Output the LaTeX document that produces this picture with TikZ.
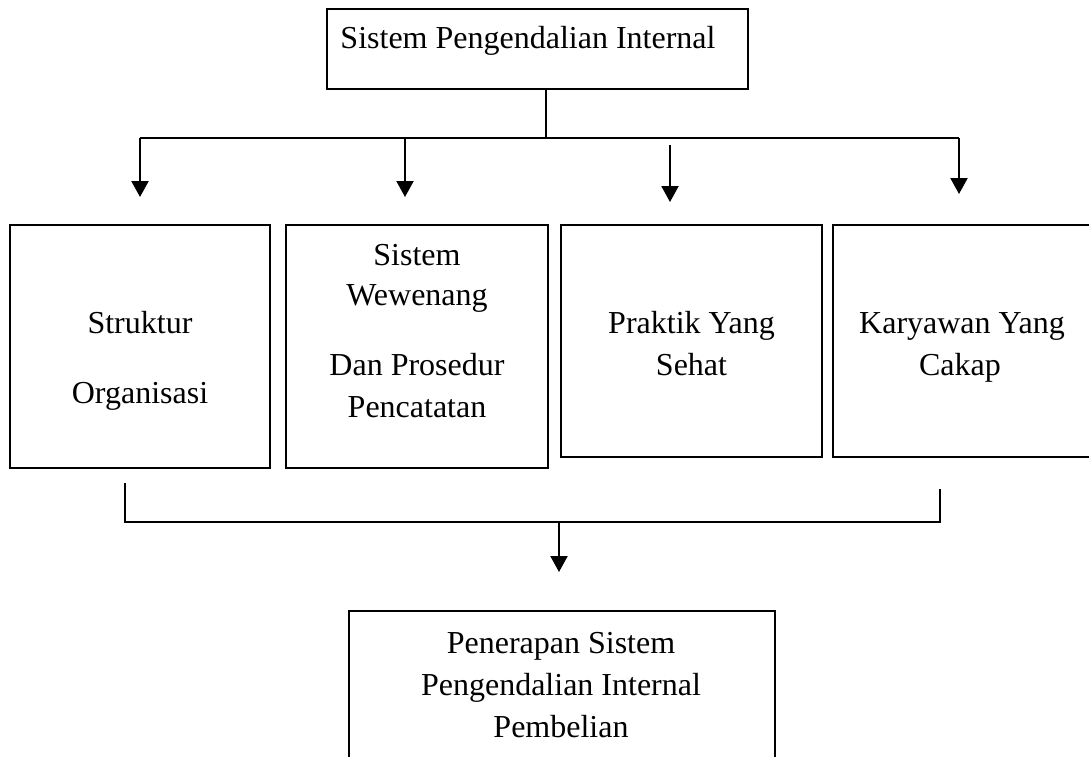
\documentclass[tikz,border=0pt]{standalone}
\usepackage{fontspec}
\setmainfont{Liberation Serif}
\usetikzlibrary{arrows.meta}
\begin{document}
\begin{tikzpicture}[x=1pt,y=-1pt,
  box/.style={draw, line width=2.3pt, inner sep=0pt, fill=none},
  txt/.style={font=\fontsize{32}{38}\selectfont, anchor=base, inner sep=0pt},
  ln/.style={line width=2.1pt},
  arr/.style={line width=2.1pt, -{Triangle[width=17pt,length=16pt]}}]
\clip (0,0) rectangle (1089,756);
\useasboundingbox (0,0) rectangle (1089,756);
\fill[white] (0,0) rectangle (1089,756);

% boxes
\node[box, minimum width=421pt, minimum height=80pt] (top) at (537.5,49) {};
\node[box, minimum width=260pt, minimum height=243pt] (b1) at (140,346.5) {};
\node[box, minimum width=262pt, minimum height=243pt] (b2) at (417,346.5) {};
\node[box, minimum width=261pt, minimum height=232pt] (b3) at (691.5,341) {};
\node[box, minimum width=258pt, minimum height=232pt] (b4) at (962,341) {};
\node[box, minimum width=426pt, minimum height=159pt] (bot) at (562,690.5) {};

% texts
\node[txt] (ttop) at (528,48) {Sistem Pengendalian Internal};
\node[txt] (t1a) at (140,333) {Struktur};
\node[txt] (t1b) at (140,403) {Organisasi};
\node[txt] (t2a) at (417,265) {Sistem};
\node[txt] (t2b) at (417,305) {Wewenang};
\node[txt] (t2c) at (417,375) {Dan Prosedur};
\node[txt] (t2d) at (417,417) {Pencatatan};
\node[txt] (t3a) at (691.5,333) {Praktik Yang};
\node[txt] (t3b) at (691.5,375) {Sehat};
\node[txt] (t4a) at (962,333) {Karyawan Yang};
\node[txt] (t4b) at (960,375) {Cakap};
\node[txt] (t5a) at (561,653) {Penerapan Sistem};
\node[txt] (t5b) at (561,695) {Pengendalian Internal};
\node[txt] (t5c) at (561,737) {Pembelian};

% top connectors
\coordinate (j) at (546,138);
\coordinate (hl) at (140,138);
\coordinate (hr) at (959,138);
\coordinate (a1e) at (140,197);
\coordinate (a2s) at (405,138);
\coordinate (a2e) at (405,197);
\coordinate (a3s) at (670,145);
\coordinate (a3e) at (670,202);
\coordinate (a4e) at (959,194);
\draw[ln] (top.south -| j) -- (j);
\draw[ln] (hl) -- (hr);
\draw[arr] (hl) -- (a1e);
\draw[arr] (a2s) -- (a2e);
\draw[arr] (a3s) -- (a3e);
\draw[arr] (hr) -- (a4e);

% bottom connectors
\coordinate (bl) at (125,483);
\coordinate (blc) at (125,522);
\coordinate (brc) at (940,522);
\coordinate (br) at (940,489);
\coordinate (bj) at (559,522);
\coordinate (be) at (559,572);
\draw[ln] (bl) -- (blc) -- (brc) -- (br);
\draw[arr] (bj) -- (be);
\end{tikzpicture}
\end{document}
